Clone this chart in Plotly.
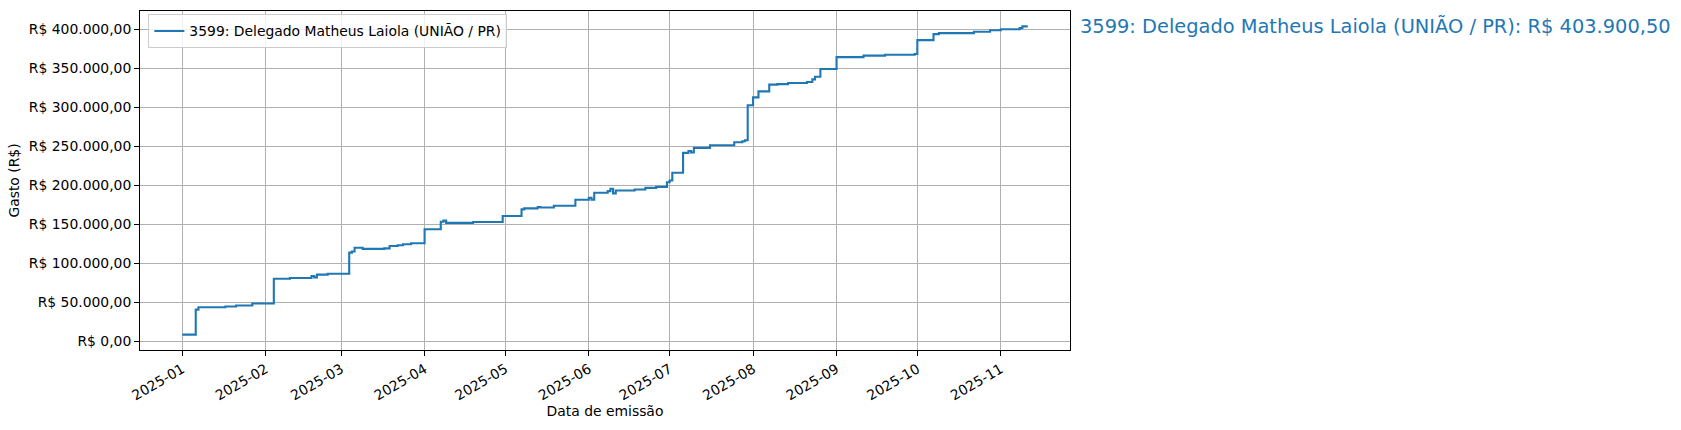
import plotly.graph_objects as go
import pandas as pd

# ---- data (cumulative spending) ----
dates = [
    "2025-01-01", "2025-01-06", "2025-01-07", "2025-01-17", "2025-01-21", "2025-01-27",
    "2025-02-04", "2025-02-10", "2025-02-18", "2025-02-19", "2025-02-20", "2025-02-24",
    "2025-03-04", "2025-03-05", "2025-03-06", "2025-03-09", "2025-03-17", "2025-03-19",
    "2025-03-22", "2025-03-24", "2025-03-27",
    "2025-04-01", "2025-04-07", "2025-04-08", "2025-04-09", "2025-04-19", "2025-04-30",
    "2025-05-07", "2025-05-08", "2025-05-13", "2025-05-14", "2025-05-19", "2025-05-27",
    "2025-06-01", "2025-06-02", "2025-06-03", "2025-06-08", "2025-06-09", "2025-06-10",
    "2025-06-11", "2025-06-18", "2025-06-22", "2025-06-26", "2025-06-30",
    "2025-07-01", "2025-07-02", "2025-07-06", "2025-07-08", "2025-07-09", "2025-07-10",
    "2025-07-16", "2025-07-25", "2025-07-28", "2025-07-29", "2025-07-30",
    "2025-08-01", "2025-08-03", "2025-08-07", "2025-08-10", "2025-08-14", "2025-08-21",
    "2025-08-23", "2025-08-24", "2025-08-26",
    "2025-09-01", "2025-09-11", "2025-09-19", "2025-09-30",
    "2025-10-01", "2025-10-07", "2025-10-09", "2025-10-22", "2025-10-28",
    "2025-11-01", "2025-11-08", "2025-11-09", "2025-11-11",
]
values = [
    9000, 41000, 44000, 45000, 46300, 48800,
    80500, 81500, 84000, 82300, 85800, 87000,
    114000, 115500, 120300, 118800, 119500, 122500,
    123500, 124800, 126000,
    144000, 153500, 155000, 152200, 153200, 161000,
    169400, 170700, 172500, 171900, 174000, 181700,
    184200, 181800, 190700, 192800, 195800, 190000,
    193700, 195000, 197000, 198300, 204300,
    206500, 216300, 241800, 244300, 242300, 248300,
    251600, 255500, 256800, 258000, 302800,
    313000, 320700, 329300, 330000, 331300, 332600,
    336000, 339300, 349300,
    364600, 366400, 367600, 368600,
    386300, 394000, 395300, 397000, 399000,
    400200, 401700, 403900.50, 403900.50,
]
series_name = "3599: Delegado Matheus Laiola (UNIÃO / PR)"
y_tick_values = [0, 50000, 100000, 150000, 200000, 250000, 300000, 350000, 400000]
x_tick_dates = ["2025-01-01", "2025-02-01", "2025-03-01", "2025-04-01", "2025-05-01",
                "2025-06-01", "2025-07-01", "2025-08-01", "2025-09-01", "2025-10-01",
                "2025-11-01"]
x_tick_labels = ["2025-01", "2025-02", "2025-03", "2025-04", "2025-05", "2025-06",
                 "2025-07", "2025-08", "2025-09", "2025-10", "2025-11"]


def brl(v):
    s = f"{v:,.2f}"
    s = s.replace(",", "X").replace(".", ",").replace("X", ".")
    return "R$ " + s


COLOR = "#1f77b4"
FONT = "DejaVu Sans"

dt = pd.to_datetime(dates)
span = dt.max() - dt.min()
x_range = [dt.min() - span * 0.05, dt.max() + span * 0.05]
vmin, vmax = min(values), max(values)
vpad = (vmax - vmin) * 0.05
y_range = [vmin - vpad, vmax + vpad]

fig = go.Figure()
fig.add_trace(go.Scatter(
    x=dt, y=values, mode="lines", name=series_name,
    line=dict(color=COLOR, width=2.1, shape="hv"),
))

fig.add_annotation(
    x=1, xref="paper", xshift=8, y=values[-1], yref="y",
    text=f"{series_name}: {brl(values[-1])}",
    showarrow=False, xanchor="left", yanchor="middle",
    font=dict(family=FONT, size=19.4, color=COLOR),
)

axis_common = dict(
    showline=True, linecolor="black", linewidth=1.1, mirror=True,
    ticks="outside", ticklen=4.9, tickwidth=1.1, tickcolor="black",
    showgrid=True, gridcolor="#b0b0b0", gridwidth=1.1,
    zeroline=False,
    tickfont=dict(family=FONT, size=13.9, color="black"),
)

fig.update_xaxes(
    **axis_common,
    range=x_range,
    tickvals=pd.to_datetime(x_tick_dates), ticktext=x_tick_labels,
    tickangle=-30,
    title=dict(text="Data de emissão", font=dict(family=FONT, size=13.9, color="black"),
               standoff=3),
)
fig.update_yaxes(
    **axis_common,
    range=y_range,
    tickvals=y_tick_values, ticktext=[brl(v) for v in y_tick_values],
    title=dict(text="Gasto (R$)", font=dict(family=FONT, size=13.9, color="black"),
               standoff=5),
)

fig.update_layout(
    width=1681, height=430,
    margin=dict(l=140, r=611, t=11, b=80),
    paper_bgcolor="white", plot_bgcolor="white",
    font=dict(family=FONT, size=13.9, color="black"),
    showlegend=True,
    legend=dict(
        x=0.009, y=0.99, xanchor="left", yanchor="top",
        bgcolor="rgba(255,255,255,0.8)", bordercolor="#cccccc", borderwidth=1,
        font=dict(family=FONT, size=13.9, color="black"),
        tracegroupgap=0, itemwidth=30,
    ),
)

fig.write_html(
    "out.html",
    config={"displayModeBar": False},
    post_script="document.body.style.margin='0';document.body.style.padding='0';",
)
